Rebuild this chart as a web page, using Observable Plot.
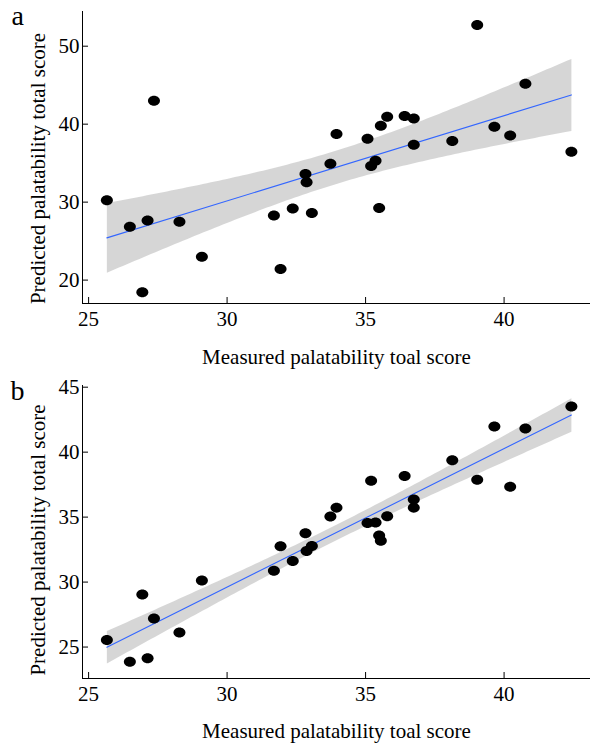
<!DOCTYPE html>
<html>
<head>
<meta charset="utf-8">
<script src="https://cdn.jsdelivr.net/npm/d3@7"></script>
<script src="https://cdn.jsdelivr.net/npm/@observablehq/plot@0.6"></script>
<style>
  html, body { margin: 0; padding: 0; background: #fff; }
  #chart { width: 590px; }
  #chart svg { display: block; }
</style>
</head>
<body>
<div id="chart"></div>
<script>
// ---- data ----
const measured = [25.66, 26.49, 26.94, 27.13, 27.36, 28.28, 29.09, 31.69, 31.93, 32.37,
                  32.83, 32.87, 33.06, 33.73, 33.95, 35.07, 35.20, 35.36, 35.49, 35.55,
                  35.78, 36.41, 36.74, 36.74, 38.13, 39.03, 39.65, 40.22, 40.77, 42.43];
const predictedA = [30.25, 26.83, 18.43, 27.63, 43.0, 27.5, 22.99, 28.3, 21.41, 29.2,
                    33.61, 32.54, 28.6, 34.93, 38.73, 38.13, 34.64, 35.31, 29.26, 39.80,
                    40.95, 41.04, 40.73, 37.36, 37.83, 52.73, 39.67, 38.55, 45.17, 36.47];
const predictedB = [25.54, 23.87, 29.05, 24.13, 27.2, 26.12, 30.13, 30.88, 32.75, 31.63,
                    33.75, 32.39, 32.78, 35.04, 35.73, 34.55, 37.79, 34.58, 33.58, 33.19,
                    35.06, 38.17, 36.35, 35.73, 39.38, 37.87, 41.97, 37.33, 41.82, 43.51];
const xTicks = [25, 30, 35, 40];
const yTicksA = [20, 30, 40, 50];
const yTicksB = [25, 30, 35, 40, 45];
const panelLabels = ["a", "b"];
const xTitle = "Measured palatability toal score";
const yTitle = "Predicted palatability total score";

const font = '"Liberation Serif", "Times New Roman", Times, serif';

// filled ellipse symbol
const ellipse = {
  draw(ctx) {
    const rx = 6, ry = 5, k = 0.5523;
    ctx.moveTo(rx, 0);
    ctx.bezierCurveTo(rx, ry * k, rx * k, ry, 0, ry);
    ctx.bezierCurveTo(-rx * k, ry, -rx, ry * k, -rx, 0);
    ctx.bezierCurveTo(-rx, -ry * k, -rx * k, -ry, 0, -ry);
    ctx.bezierCurveTo(rx * k, -ry, rx, -ry * k, rx, 0);
    ctx.closePath();
  }
};

const W = 590, H = 372, ML = 82, MR = 0;
const xDomain = [24.78, 43.12];

function panel({pred, yDomain, yTicks, marginTop, marginBottom, label, labelDx, labelDy, xTitleDy, yTitleDy}) {
  const data = measured.map((m, i) => ({m, p: pred[i]}));
  const frameW = W - ML - MR;
  const frameH = H - marginTop - marginBottom;
  return Plot.plot({
    width: W, height: H,
    marginLeft: ML, marginRight: MR, marginTop, marginBottom,
    style: {fontFamily: font, fontSize: "21px", background: "#fff", color: "#000", overflow: "visible"},
    x: {domain: xDomain},
    y: {domain: yDomain},
    marks: [
      Plot.linearRegressionY(data, {x: "m", y: "p", stroke: "#3366FF", strokeWidth: 1.1,
        fill: "#999999", fillOpacity: 0.4, ci: 0.95}),
      Plot.dot(data, {x: "m", y: "p", symbol: ellipse, fill: "#000", stroke: "none"}),
      Plot.ruleX([xDomain[0]], {stroke: "#000", strokeWidth: 1}),
      Plot.ruleY([yDomain[0]], {stroke: "#000", strokeWidth: 1}),
      Plot.ruleY(yTicks, {stroke: "#000", strokeWidth: 1, insetRight: frameW - 6}),
      Plot.ruleX(xTicks, {stroke: "#000", strokeWidth: 1, insetTop: frameH - 6}),
      Plot.axisX({ticks: xTicks, tickSize: 0, tickPadding: 8, label: null, tickFormat: d => String(d)}),
      Plot.axisY({ticks: yTicks, tickSize: 0, tickPadding: 3, label: null, tickFormat: d => String(d)}),
      Plot.text([xTitle], {text: d => d, frameAnchor: "bottom", dy: xTitleDy, lineAnchor: "bottom"}),
      Plot.text([yTitle], {text: d => d, frameAnchor: "left", rotate: -90, dx: -38, dy: yTitleDy,
        lineAnchor: "bottom", textAnchor: "middle"}),
      Plot.text([label], {text: d => d, frameAnchor: "top-left", dx: labelDx, dy: labelDy,
        textAnchor: "start", lineAnchor: "bottom", fontSize: 28})
    ]
  });
}

const chart = document.getElementById("chart");
chart.appendChild(panel({
  pred: predictedA, yDomain: [17.0, 54.45], yTicks: yTicksA,
  marginTop: 11, marginBottom: 69, label: panelLabels[0], labelDx: -71, labelDy: 13,
  xTitleDy: 60, yTitleDy: 11
}));
chart.appendChild(panel({
  pred: predictedB, yDomain: [22.58, 45.13], yTicks: yTicksB,
  marginTop: 13, marginBottom: 66, label: panelLabels[1], labelDx: -72, labelDy: 14,
  xTitleDy: 59, yTitleDy: 8
}));
</script>
</body>
</html>
